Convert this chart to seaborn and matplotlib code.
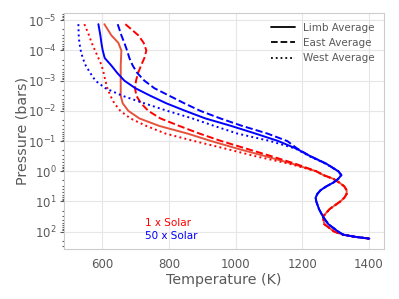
import numpy as np
import matplotlib
matplotlib.use("Agg")
import matplotlib.pyplot as plt
import seaborn as sns
from matplotlib.lines import Line2D

# log10 pressure levels (bars)
logp = [-4.87, -4.5, -4.25, -4.0, -3.75, -3.5, -3.25, -3.0, -2.75, -2.5,
        -2.25, -2.0, -1.75, -1.5, -1.25, -1.0, -0.75, -0.5, -0.25,
        0.0, 0.125, 0.25, 0.375, 0.5, 0.625, 0.75, 0.875, 1.0, 1.25,
        1.5, 1.75, 2.0, 2.1, 2.17, 2.23]

# deep atmosphere (0 to 2.23), shared by the three averages
t1_deep = [1242, 1263, 1293, 1311, 1326, 1333, 1333, 1326, 1314, 1282,
           1262, 1266, 1296, 1323, 1359, 1401]
t50_deep = [1308, 1317, 1308, 1293, 1272, 1255, 1245, 1240, 1242, 1250,
            1262, 1278, 1308, 1323, 1359, 1401]

# 1 x Solar, upper atmosphere (-4.87 to -0.25)
t1_limb = [606, 627, 648, 657, 656, 655, 655, 655, 655, 655,
           661, 678, 711, 771, 855, 927, 1005, 1089, 1170]
t1_east = [669, 708, 724, 732, 726, 716, 707, 701, 698, 702,
           716, 738, 774, 831, 891, 957, 1032, 1107, 1179]
t1_west = [546, 560, 568, 578, 588, 598, 604, 609, 615, 624,
           636, 654, 684, 732, 789, 876, 969, 1059, 1161]

# 50 x Solar, upper atmosphere
t50_limb = [588, 594, 597, 601, 607, 627, 645, 666, 699, 744,
            792, 849, 909, 987, 1059, 1128, 1182, 1224, 1272]
t50_east = [646, 657, 666, 674, 681, 691, 705, 726, 756, 801,
            846, 894, 954, 1020, 1095, 1155, 1185, 1224, 1272]
t50_west = [528, 529, 531, 535, 541, 550, 564, 579, 609, 660,
            726, 795, 870, 936, 1005, 1104, 1180, 1221, 1270]

yticks = [1e-5, 1e-4, 1e-3, 1e-2, 1e-1, 1e0, 1e1, 1e2]

pressure = 10 ** np.array(logp)

sns.set_style("whitegrid", {"grid.color": ".9", "axes.edgecolor": ".8",
                            "text.color": ".35", "axes.labelcolor": ".35",
                            "xtick.color": ".35", "ytick.color": ".35"})

fig, ax = plt.subplots(figsize=(3.99, 2.99), dpi=100)
fig.subplots_adjust(left=0.16, right=0.962, top=0.955, bottom=0.166)

curves = [(t1_limb + t1_deep, "#e5533c", "-"), (t1_east + t1_deep, "red", "--"),
          (t1_west + t1_deep, "red", ":"),
          (t50_limb + t50_deep, "blue", "-"), (t50_east + t50_deep, "blue", "--"),
          (t50_west + t50_deep, "blue", ":")]
for temps, col, ls in curves:
    sns.lineplot(x=temps, y=pressure, sort=False, estimator=None, ax=ax,
                 color=col, linestyle=ls, linewidth=1.4)

ax.set_yscale("log")
ax.set_yticks(yticks)
ax.invert_yaxis()
ax.set_xticks([600, 800, 1000, 1200, 1400])
ax.tick_params(axis="both", labelsize=8.5)
ax.tick_params(axis="x", pad=3)
ax.tick_params(axis="y", which="both", left=True, length=3, width=0.8, pad=2)
ax.tick_params(axis="y", which="minor", length=1.5)
ax.set_xlabel("Temperature (K)", fontsize=10.3, labelpad=1)
ax.set_ylabel("Pressure (bars)", fontsize=10.3, labelpad=-1)

handles = [Line2D([], [], color="black", linestyle="-", linewidth=1.3),
           Line2D([], [], color="black", linestyle="--", linewidth=1.3),
           Line2D([], [], color="black", linestyle=":", linewidth=1.3)]
ax.legend(handles, ["Limb Average", "East Average", "West Average"],
          loc="upper right", frameon=False, fontsize=7.5, handlelength=2.3,
          labelspacing=0.5, borderaxespad=0.5)

ax.text(0.253, 0.10, "1 x Solar", color="red", fontsize=7.5, transform=ax.transAxes)
ax.text(0.253, 0.043, "50 x Solar", color="blue", fontsize=7.5, transform=ax.transAxes)

plt.savefig("out.png", dpi=100)
plt.close()
